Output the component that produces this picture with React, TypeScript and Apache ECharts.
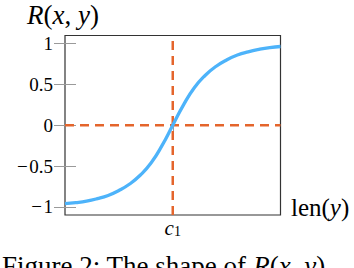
import React, { useEffect, useRef } from "react";
import * as echarts from "echarts";

// data
const xValues = [0, 0.05, 0.1, 0.15, 0.2, 0.25, 0.3, 0.35, 0.4, 0.45, 0.5, 0.55, 0.6, 0.65, 0.7, 0.75, 0.8, 0.85, 0.9, 0.95, 1];
const rValues = [-0.96, -0.948, -0.93, -0.9, -0.86, -0.8, -0.72, -0.61, -0.46, -0.25, 0, 0.25, 0.46, 0.61, 0.72, 0.8, 0.86, 0.9, 0.93, 0.952, 0.965];
const yTicks = [-1, -0.5, 0, 0.5, 1];
const xTicks = [0.5];
const c1 = 0.5;
const hRef = [[0, 0], [1, 0]];
const vRef = [[c1, -1.1], [c1, 1.1]];

const SERIF = "'Liberation Serif', 'Times New Roman', serif";
const ORANGE = "#e4652c";
const BLUE = "#4db3fa";
const TICK = "#9a9a9a";

export default function App() {
  const ref = useRef<HTMLDivElement>(null);
  useEffect(() => {
    if (!ref.current) return;
    const chart = echarts.init(ref.current, null, { renderer: "svg" });
    const fmtY = (v: number) => (v < 0 ? "\u2212\u200A" + Math.abs(v) : String(v));
    const yAx = (pos: "left" | "right", labels: boolean) => ({
      type: "value",
      position: pos,
      min: -1.1,
      max: 1.1,
      axisLine: { show: false },
      splitLine: { show: false },
      axisTick: { show: true, inside: true, length: 11, customValues: yTicks, lineStyle: { color: TICK, width: 1 } },
      axisLabel: {
        show: labels,
        customValues: yTicks,
        formatter: fmtY,
        margin: 12,
        fontFamily: SERIF,
        fontSize: 19,
        color: "#000",
      },
    });
    const xAx = (pos: "bottom" | "top", labels: boolean) => ({
      type: "value",
      position: pos,
      min: 0,
      max: 1,
      axisLine: { show: false },
      splitLine: { show: false },
      axisTick: { show: true, inside: true, length: 8, customValues: xTicks, lineStyle: { color: TICK, width: 1 } },
      axisLabel: {
        show: labels,
        customValues: xTicks,
        formatter: () => "{c|c}{s|1}",
        margin: 2,
        rich: {
          c: { fontFamily: SERIF, fontStyle: "italic", fontSize: 21, color: "#000" },
          s: { fontFamily: SERIF, fontSize: 14, color: "#000", padding: [7, 0, 0, 0] },
        },
      },
    });
    chart.setOption({
      animation: false,
      grid: {
        left: 65,
        top: 35.5,
        right: 73.5,
        bottom: 53,
        show: true,
        borderColor: "#333",
        borderWidth: 1.2,
        backgroundColor: "transparent",
      },
      xAxis: [xAx("bottom", true), xAx("top", false)],
      yAxis: [yAx("left", true), yAx("right", false)],
      series: [
        {
          type: "line",
          data: hRef,
          symbol: "none",
          lineStyle: { color: ORANGE, width: 2.5, type: [9, 6] },
        },
        {
          type: "line",
          data: vRef,
          symbol: "none",
          lineStyle: { color: ORANGE, width: 2.5, type: [9, 6] },
        },
        {
          type: "line",
          data: xValues.map((x, i) => [x, rValues[i]]),
          smooth: true,
          symbol: "none",
          lineStyle: { color: BLUE, width: 3.3 },
        },
      ],
      graphic: [
        {
          type: "text",
          x: 27,
          y: 14.5,
          style: {
            text: "{i|R}{n|(}{i|x}{n|, }{i|y}{n|)}",
            verticalAlign: "middle",
            rich: {
              i: { fontFamily: SERIF, fontStyle: "italic", fontSize: 27, fill: "#000" },
              n: { fontFamily: SERIF, fontSize: 27, fill: "#000" },
            },
          },
        },
        {
          type: "text",
          x: 291,
          y: 207,
          style: {
            text: "{n|len(}{i|y}{n|)}",
            verticalAlign: "middle",
            rich: {
              i: { fontFamily: SERIF, fontStyle: "italic", fontSize: 25, fill: "#000" },
              n: { fontFamily: SERIF, fontSize: 25, fill: "#000" },
            },
          },
        },
        {
          type: "text",
          x: 2,
          y: 265.5,
          style: {
            text: "{n|Figure 2: The shape of }{i|R}{n|(}{i|x}{n|, }{i|y}{n|).}",
            verticalAlign: "middle",
            rich: {
              i: { fontFamily: SERIF, fontStyle: "italic", fontSize: 27, fill: "#000" },
              n: { fontFamily: SERIF, fontSize: 27, fill: "#000" },
            },
          },
        },
      ],
    });
    return () => chart.dispose();
  }, []);
  return (
    <div
      ref={ref}
      style={{ position: "fixed", left: 0, top: 0, width: 354, height: 268, background: "#fff" }}
    />
  );
}
